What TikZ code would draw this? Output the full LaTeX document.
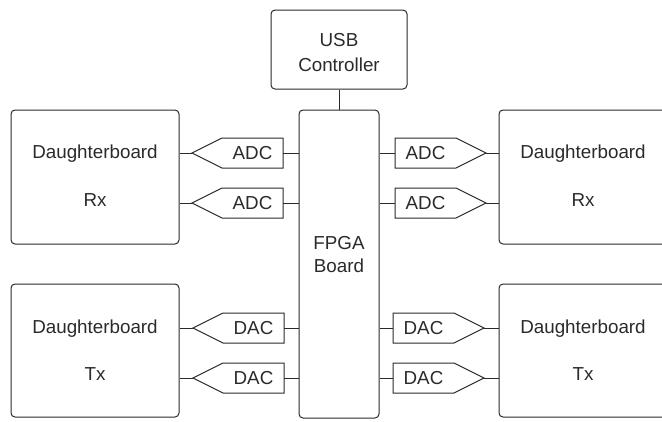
\documentclass[tikz,border=0pt]{standalone}
\usepackage{fontspec}
\setmainfont{Liberation Sans}
\definecolor{ink}{HTML}{2A2A2A}
\tikzset{
  x=1pt, y=-1pt,
  every node/.style={text=ink, font=\fontsize{18.8}{22}\selectfont, inner sep=0pt},
  box/.style={draw=ink, line width=1pt, rounded corners=4pt, rectangle},
  ampline/.style={draw=ink, line width=1pt, line join=miter},
  wire/.style={draw=ink, line width=1pt},
}
% amplifier symbol: #1 name, #2 tip x, #3 y, #4 direction (+1 right, -1 left), #5 text
\newcommand\ampsym[5]{%
  \coordinate (#1tip) at (#2,#3);
  \coordinate (#1back) at ({#2-#4*91},#3);
  \draw[ampline] (#1tip) -- ++({-#4*30},-15) -- ++({-#4*61},0) -- ++(0,30)
     -- ++({#4*61},0) -- cycle;
  \node (#1) at ({#2-#4*60.5},#3) {#5};
}
\begin{document}
\begin{tikzpicture}
\useasboundingbox (0,0) rectangle (662,421);
\clip (0,0) rectangle (662,421);

% main blocks
\node[box, minimum width=136pt, minimum height=79pt] (usb) at (339,49.5) {};
\node (usbA) at (339,40) {USB};
\node (usbB) at (339,65) {Controller};

\node[box, minimum width=80pt, minimum height=308pt] (fpga) at (339,264) {};
\node (fpgaA) at (339,243) {FPGA};
\node (fpgaB) at (339,266) {Board};

% daughterboards (the right-hand pair runs past the page edge)
\node[box, minimum width=168pt, minimum height=134pt] (rxL) at (95,177) {};
\node (rxLa) at (95,154) {Daughterboard};
\node (rxLb) at (95,200) {Rx};
\node[box, minimum width=168pt, minimum height=133pt] (txL) at (95,350.5) {};
\node (txLa) at (95,329) {Daughterboard};
\node (txLb) at (95,374) {Tx};
\node[box, minimum width=190pt, minimum height=134pt] (rxR) at (594,177) {};
\node (rxRa) at (583,154) {Daughterboard};
\node (rxRb) at (583,200) {Rx};
\node[box, minimum width=190pt, minimum height=133pt] (txR) at (594,350.5) {};
\node (txRa) at (583,329) {Daughterboard};
\node (txRb) at (583,374) {Tx};

% converters
\ampsym{adcL1}{192}{153}{-1}{ADC}
\ampsym{adcL2}{192}{203}{-1}{ADC}
\ampsym{dacL1}{193}{328}{-1}{DAC}
\ampsym{dacL2}{193}{378}{-1}{DAC}
\ampsym{adcR1}{486}{153}{1}{ADC}
\ampsym{adcR2}{486}{203}{1}{ADC}
\ampsym{dacR1}{484}{328}{1}{DAC}
\ampsym{dacR2}{484}{378}{1}{DAC}

% wiring
\draw[wire] (usb.south) -- (fpga.north);
\foreach \a in {adcL1,adcL2,dacL1,dacL2}{
  \draw[wire] (rxL.east |- \a tip) -- (\a tip);
  \draw[wire] (\a back) -- (fpga.west |- \a back);
}
\foreach \a in {adcR1,adcR2,dacR1,dacR2}{
  \draw[wire] (fpga.east |- \a back) -- (\a back);
  \draw[wire] (\a tip) -- (rxR.west |- \a tip);
}
\end{tikzpicture}
\end{document}
